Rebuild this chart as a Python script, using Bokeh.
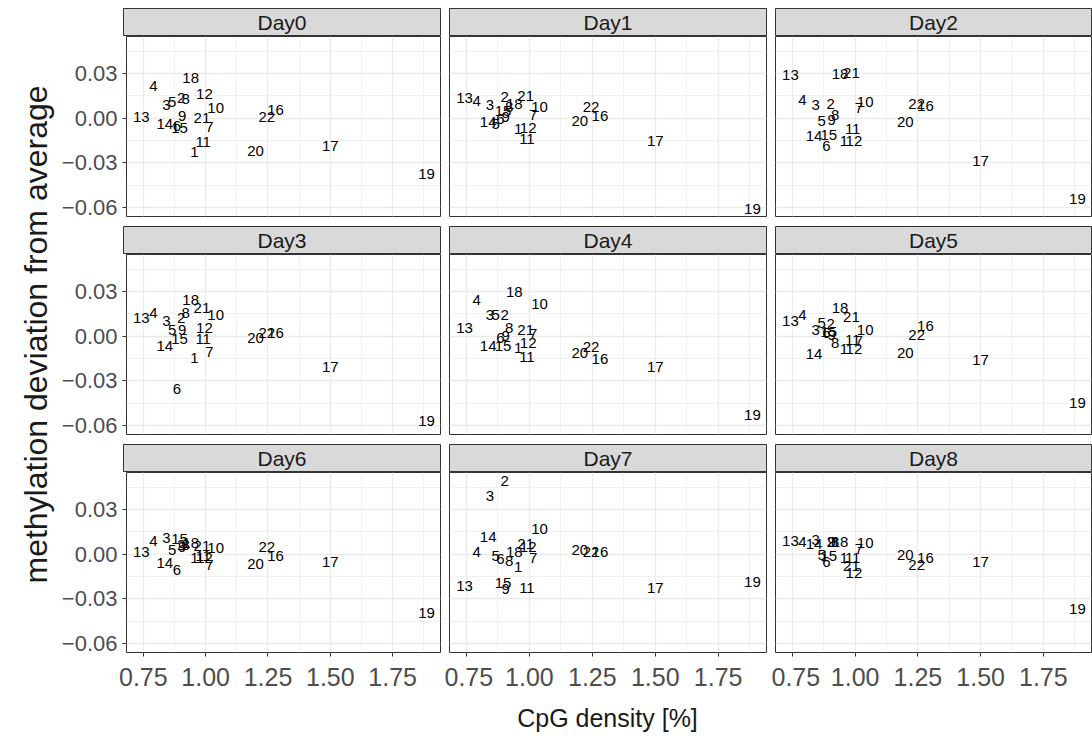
import math
from bokeh.plotting import figure
from bokeh.layouts import row, column
from bokeh.models import Range1d, FixedTicker, CustomJSTickFormatter, ColumnDataSource
from bokeh.embed import file_html
from bokeh.resources import INLINE
from bokeh.core.properties import value

# ---------------- data ----------------
region_labels = [str(i) for i in range(1, 23)]
cpg_density = [0.955, 0.902, 0.843, 0.790, 0.866, 0.885, 1.015, 0.920, 0.906, 1.040, 0.990,
               0.995, 0.742, 0.836, 0.895, 1.280, 1.500, 0.940, 1.886, 1.200, 0.985, 1.245]

day_names = ["Day0", "Day1", "Day2", "Day3", "Day4", "Day5", "Day6", "Day7", "Day8"]

day0 = [-0.0230, 0.0137, 0.0090, 0.0216, 0.0110, -0.0055, -0.0060, 0.0126, 0.0018, 0.0070, -0.0158,
        0.0160, 0.0007, -0.0040, -0.0065, 0.0052, -0.0185, 0.0272, -0.0376, -0.0218, 0.0000, 0.0007]
day1 = [-0.0075, 0.0143, 0.0091, 0.0114, -0.0037, -0.0008, 0.0019, 0.0075, 0.0008, 0.0075, -0.0138,
        -0.0066, 0.0136, -0.0026, 0.0048, 0.0014, -0.0150, 0.0098, -0.0610, -0.0021, 0.0150, 0.0075]
day2 = [-0.0155, 0.0098, 0.0087, 0.0120, -0.0019, -0.0188, 0.0069, 0.0024, -0.0010, 0.0109, -0.0075,
        -0.0150, 0.0289, -0.0116, -0.0111, 0.0085, -0.0290, 0.0300, -0.0545, -0.0027, 0.0307, 0.0097]
day3 = [-0.0146, 0.0124, 0.0103, 0.0158, 0.0045, -0.0353, -0.0108, 0.0158, 0.0045, 0.0140, -0.0018,
        0.0056, 0.0124, -0.0063, -0.0018, 0.0022, -0.0209, 0.0243, -0.0570, -0.0011, 0.0190, 0.0022]
day4 = [-0.0079, 0.0146, 0.0142, 0.0245, 0.0142, -0.0010, 0.0018, 0.0056, 0.0000, 0.0214, -0.0142,
        -0.0045, 0.0052, -0.0068, -0.0063, -0.0153, -0.0209, 0.0297, -0.0529, -0.0113, 0.0045, -0.0074]
day5 = [-0.0086, 0.0079, 0.0040, 0.0146, 0.0090, 0.0020, -0.0034, -0.0045, 0.0010, 0.0045, -0.0023,
        -0.0086, 0.0101, -0.0117, 0.0030, 0.0068, -0.0158, 0.0187, -0.0450, -0.0113, 0.0130, 0.0005]
day6 = [-0.0027, 0.0060, 0.0108, 0.0089, 0.0029, -0.0106, -0.0072, 0.0062, 0.0051, 0.0040, -0.0010,
        -0.0022, 0.0013, -0.0056, 0.0105, -0.0010, -0.0050, 0.0075, -0.0394, -0.0067, 0.0055, 0.0051]
day7 = [-0.0083, 0.0490, 0.0394, 0.0015, -0.0010, -0.0035, -0.0027, -0.0045, -0.0236, 0.0170, -0.0230,
        0.0047, -0.0214, 0.0118, -0.0196, 0.0015, -0.0230, 0.0018, -0.0185, 0.0029, 0.0069, 0.0013]
day8 = [-0.0025, 0.0085, 0.0096, 0.0085, -0.0005, -0.0050, 0.0035, 0.0085, 0.0085, 0.0074, -0.0027,
        -0.0124, 0.0089, 0.0067, -0.0011, -0.0027, -0.0050, 0.0082, -0.0371, -0.0005, -0.0079, -0.0072]
deviations = [day0, day1, day2, day3, day4, day5, day6, day7, day8]

x_major = [0.75, 1.00, 1.25, 1.50, 1.75]
x_minor = [0.625, 0.875, 1.125, 1.375, 1.625, 1.875]
y_major = [-0.06, -0.03, 0.00, 0.03]
y_minor = [-0.045, -0.015, 0.015, 0.045]

# ---------------- style / layout ----------------
FONT = "Liberation Sans"
X_RANGE = (0.6824, 1.942)
Y_RANGE = (-0.0660, 0.0549)
BORDER_L = [65, 5, 4]
BORDER_R = [4, 5, 1]
FRAME_W = [317, 317, 316]
FRAME_H = 180
STRIP_H = 28
TOP_PAD = 8
GAP_H = 10
BOTTOM_H = 48
GRID_COL = "#EBEBEB"
DARK = "#333333"

fmt = CustomJSTickFormatter(code="return (tick < -1e-9 ? '\\u2212' : '') + Math.abs(tick).toFixed(2);")


def strip(name, r, c):
    top = TOP_PAD if r == 0 else 0
    s = figure(width=BORDER_L[c] + FRAME_W[c] + BORDER_R[c], height=STRIP_H + top,
               x_range=Range1d(0, 1), y_range=Range1d(0, 1),
               x_axis_location=None, y_axis_location=None, title=None,
               toolbar_location=None, output_backend="svg",
               min_border_left=BORDER_L[c], min_border_right=BORDER_R[c],
               min_border_top=top, min_border_bottom=0)
    s.xgrid.visible = False
    s.ygrid.visible = False
    s.background_fill_color = "#D9D9D9"
    s.border_fill_color = "white"
    s.outline_line_color = DARK
    s.outline_line_width = 1
    s.text(x=[0.5], y=[0.5], text=[name], text_font=value(FONT), text_font_size="21px",
           text_align="center", text_baseline="middle", text_color="#1A1A1A")
    return s


def panel(k, r, c):
    left = c == 0
    bottom = r == 2
    p = figure(width=BORDER_L[c] + FRAME_W[c] + BORDER_R[c],
               height=FRAME_H + (BOTTOM_H if bottom else GAP_H),
               x_range=Range1d(*X_RANGE), y_range=Range1d(*Y_RANGE),
               x_axis_location="below" if bottom else None,
               y_axis_location="left" if left else None, title=None,
               toolbar_location=None, output_backend="svg",
               min_border_left=BORDER_L[c], min_border_right=BORDER_R[c],
               min_border_top=0, min_border_bottom=(BOTTOM_H if bottom else GAP_H))
    p.background_fill_color = "white"
    p.border_fill_color = "white"
    p.outline_line_color = DARK
    p.outline_line_width = 1
    p.xgrid.ticker = FixedTicker(ticks=x_major, minor_ticks=x_minor)
    p.ygrid.ticker = FixedTicker(ticks=y_major, minor_ticks=y_minor)
    for g in (p.xgrid, p.ygrid):
        g.grid_line_color = GRID_COL
        g.grid_line_width = 1.3
        g.minor_grid_line_color = GRID_COL
        g.minor_grid_line_width = 0.7
    if bottom:
        ax = p.xaxis[0]
        ax.ticker = FixedTicker(ticks=x_major)
        ax.formatter = fmt
        ax.major_label_text_font_size = "25px"
        ax.major_label_standoff = 11
    if left:
        ax = p.yaxis[0]
        ax.ticker = FixedTicker(ticks=y_major)
        ax.formatter = fmt
        ax.major_label_text_font_size = "22px"
        ax.major_label_standoff = 5
    for ax in list(p.xaxis) + list(p.yaxis):
        ax.axis_line_color = None
        ax.major_tick_in = 0
        ax.major_tick_out = 4
        ax.major_tick_line_color = DARK
        ax.minor_tick_line_color = None
        ax.major_label_text_font = FONT
        ax.major_label_text_color = "#4D4D4D"
    src = ColumnDataSource(dict(x=cpg_density, y=deviations[k], label=region_labels))
    p.text(x="x", y="y", text="label", source=src, text_font=value(FONT), text_font_size="15px",
           text_align="center", text_baseline="middle", text_color="black")
    return p


rows = []
for r in range(3):
    rows.append(row([strip(day_names[3 * r + c], r, c) for c in range(3)], spacing=0))
    rows.append(row([panel(3 * r + c, r, c) for c in range(3)], spacing=0))
grid = column(rows, spacing=0)

PANELS_H = 3 * (STRIP_H + FRAME_H) + 2 * GAP_H
GRID_H = TOP_PAD + PANELS_H + BOTTOM_H
YT_W = 58
ytitle = figure(width=YT_W, height=GRID_H, x_range=Range1d(0, YT_W), y_range=Range1d(0, GRID_H),
                x_axis_location=None, y_axis_location=None, title=None,
                toolbar_location=None, output_backend="svg",
                min_border_left=0, min_border_right=0, min_border_top=0, min_border_bottom=0)
ytitle.xgrid.visible = False
ytitle.ygrid.visible = False
ytitle.outline_line_color = None
panels_mid = GRID_H - TOP_PAD - PANELS_H / 2.0 - 4
ytitle.text(x=[35], y=[panels_mid], text=["methylation deviation from average"],
            angle=math.pi / 2, text_font=value(FONT), text_font_size="32px",
            text_align="center", text_baseline="middle", text_color="#1A1A1A")

TOTAL_W = YT_W + sum(BORDER_L) + sum(FRAME_W) + sum(BORDER_R)
XT_H = 34
xtitle = figure(width=TOTAL_W, height=XT_H, x_range=Range1d(0, TOTAL_W), y_range=Range1d(0, XT_H),
                x_axis_location=None, y_axis_location=None, title=None,
                toolbar_location=None, output_backend="svg",
                min_border_left=0, min_border_right=0, min_border_top=0, min_border_bottom=0)
xtitle.xgrid.visible = False
xtitle.ygrid.visible = False
xtitle.outline_line_color = None
frames_mid = YT_W + BORDER_L[0] + (sum(FRAME_W) + sum(BORDER_R[:2]) + sum(BORDER_L[1:])) / 2.0
xtitle.text(x=[frames_mid], y=[XT_H - 17], text=["CpG density [%]"],
            text_font=value(FONT), text_font_size="25px",
            text_align="center", text_baseline="middle", text_color="#1A1A1A")

layout = column([row([ytitle, grid], spacing=0), xtitle], spacing=0)

with open("out.html", "w") as f:
    f.write(file_html(layout, INLINE))
